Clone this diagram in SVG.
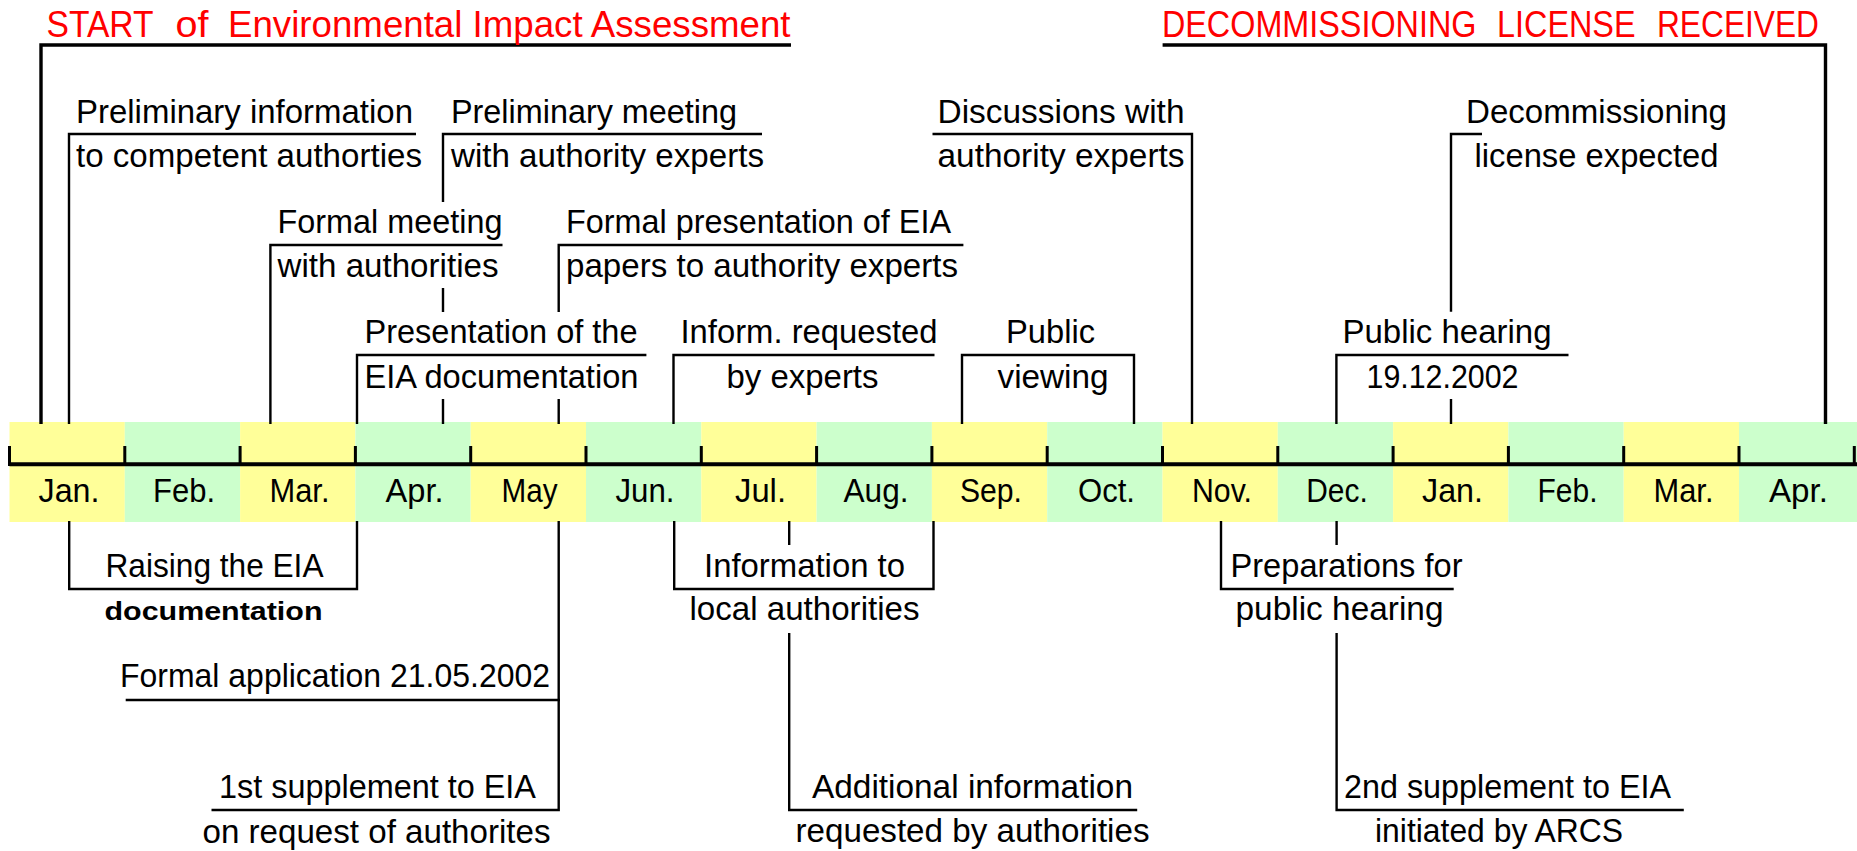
<svg xmlns="http://www.w3.org/2000/svg" width="1857" height="851" viewBox="0 0 1857 851">
  <style>
    text { font-family: "Liberation Sans Narrow", "Arial Narrow", "Liberation Sans", Arial, sans-serif; fill: #000; }
    .lbl { font-size: 32.5px; }
    .title { font-size: 37px; fill: #ff0000; }
    .month { font-size: 33px; text-anchor: middle; }
    .bold { font-size: 26px; font-weight: bold; }
    .yel { fill: #ffff99; }
    .grn { fill: #ccffcc; }
    .conn { fill: none; stroke: #000; stroke-width: 2.4; stroke-linecap: butt; }
    .edge { fill: none; stroke: #000; stroke-width: 3.4; }
    .axis { stroke: #000; stroke-width: 4; }
    .tick { stroke: #000; stroke-width: 3; }
  </style>

  <!-- month band -->
  <g id="timeline">
    <rect class="yel" x="9.5" y="422" width="115.3" height="100"/>
    <rect class="grn" x="124.8" y="422" width="115.3" height="100"/>
    <rect class="yel" x="240.1" y="422" width="115.3" height="100"/>
    <rect class="grn" x="355.4" y="422" width="115.3" height="100"/>
    <rect class="yel" x="470.7" y="422" width="115.3" height="100"/>
    <rect class="grn" x="586" y="422" width="115.3" height="100"/>
    <rect class="yel" x="701.3" y="422" width="115.3" height="100"/>
    <rect class="grn" x="816.6" y="422" width="115.3" height="100"/>
    <rect class="yel" x="931.9" y="422" width="115.3" height="100"/>
    <rect class="grn" x="1047.2" y="422" width="115.3" height="100"/>
    <rect class="yel" x="1162.5" y="422" width="115.3" height="100"/>
    <rect class="grn" x="1277.8" y="422" width="115.3" height="100"/>
    <rect class="yel" x="1393.1" y="422" width="115.3" height="100"/>
    <rect class="grn" x="1508.4" y="422" width="115.3" height="100"/>
    <rect class="yel" x="1623.7" y="422" width="115.3" height="100"/>
    <rect class="grn" x="1739" y="422" width="118" height="100"/>

    <line class="axis" x1="9.5" y1="464.3" x2="1857" y2="464.3"/>
    <path class="tick" d="M9.5,446V466 M124.8,446V466 M240.1,446V466 M355.4,446V466 M470.7,446V466 M586,446V466 M701.3,446V466 M816.6,446V466 M931.9,446V466 M1047.2,446V466 M1162.5,446V466 M1277.8,446V466 M1393.1,446V466 M1508.4,446V466 M1623.7,446V466 M1739,446V466 M1854.3,446V466"/>

    <text class="month" x="69" y="502" textLength="61" lengthAdjust="spacingAndGlyphs">Jan.</text>
    <text class="month" x="184" y="502" textLength="62" lengthAdjust="spacingAndGlyphs">Feb.</text>
    <text class="month" x="299.5" y="502" textLength="60" lengthAdjust="spacingAndGlyphs">Mar.</text>
    <text class="month" x="414.5" y="502" textLength="58" lengthAdjust="spacingAndGlyphs">Apr.</text>
    <text class="month" x="529.5" y="502" textLength="56" lengthAdjust="spacingAndGlyphs">May</text>
    <text class="month" x="645" y="502" textLength="59" lengthAdjust="spacingAndGlyphs">Jun.</text>
    <text class="month" x="760.5" y="502" textLength="51" lengthAdjust="spacingAndGlyphs">Jul.</text>
    <text class="month" x="876" y="502" textLength="65" lengthAdjust="spacingAndGlyphs">Aug.</text>
    <text class="month" x="991" y="502" textLength="62" lengthAdjust="spacingAndGlyphs">Sep.</text>
    <text class="month" x="1106.5" y="502" textLength="57" lengthAdjust="spacingAndGlyphs">Oct.</text>
    <text class="month" x="1222" y="502" textLength="60" lengthAdjust="spacingAndGlyphs">Nov.</text>
    <text class="month" x="1337" y="502" textLength="61.5" lengthAdjust="spacingAndGlyphs">Dec.</text>
    <text class="month" x="1452.5" y="502" textLength="61" lengthAdjust="spacingAndGlyphs">Jan.</text>
    <text class="month" x="1567.5" y="502" textLength="60" lengthAdjust="spacingAndGlyphs">Feb.</text>
    <text class="month" x="1683.5" y="502" textLength="60" lengthAdjust="spacingAndGlyphs">Mar.</text>
    <text class="month" x="1798.5" y="502" textLength="59" lengthAdjust="spacingAndGlyphs">Apr.</text>
  </g>

  <!-- bracket lines linking each event to the band -->
  <g id="connectors">
    <path class="edge" d="M41,424V45H791"/>
    <path class="edge" d="M1162.6,45H1825.5V424"/>

    <path class="conn" d="M69,424V134H416"/>
    <path class="conn" d="M443,202V134H762 M443,288V312 M443,399V424"/>
    <path class="conn" d="M932.5,134H1192V424"/>
    <path class="conn" d="M1482,134H1451V311.7 M1451,399V424"/>
    <path class="conn" d="M270.4,424V245H502.5"/>
    <path class="conn" d="M558.7,312V245H963.4 M558.7,399V424"/>
    <path class="conn" d="M357,424V355H646.4"/>
    <path class="conn" d="M673.5,424V355H934.5"/>
    <path class="conn" d="M962,424V355H1134V424"/>
    <path class="conn" d="M1336.4,424V355H1568.5"/>

    <path class="conn" d="M69.2,521V589H357V521"/>
    <path class="conn" d="M558.7,521V810H211.5 M125.7,700H560"/>
    <path class="conn" d="M674.2,521V589H933.5V521 M789.2,521V545 M789.2,633V810H1137.2"/>
    <path class="conn" d="M1221,521V589H1453.7 M1336.6,521V545 M1336.6,633V810H1683.8"/>
  </g>

  <g id="start-eia">
    <text class="title" x="46.5" y="36.7" textLength="107" lengthAdjust="spacingAndGlyphs">START</text>
    <text class="title" x="175.5" y="36.7" textLength="33" lengthAdjust="spacingAndGlyphs">of</text>
    <text class="title" x="228" y="36.7" textLength="562.5" lengthAdjust="spacingAndGlyphs">Environmental Impact Assessment</text>
  </g>
  <!-- condensed capitals: x positions are in the group's squeezed units -->
  <g id="license-received" transform="scale(0.85,1)">
    <text class="title" x="1367" y="36.7" textLength="370" lengthAdjust="spacingAndGlyphs">DECOMMISSIONING</text>
    <text class="title" x="1761.2" y="36.7" textLength="163" lengthAdjust="spacingAndGlyphs">LICENSE</text>
    <text class="title" x="1949.4" y="36.7" textLength="190.6" lengthAdjust="spacingAndGlyphs">RECEIVED</text>
  </g>

  <g id="prelim-info">
    <text class="lbl" x="76" y="123.3" textLength="337" lengthAdjust="spacingAndGlyphs">Preliminary information</text>
    <text class="lbl" x="76" y="166.7" textLength="346" lengthAdjust="spacingAndGlyphs">to competent authorties</text>
  </g>
  <g id="prelim-meeting">
    <text class="lbl" x="451" y="123.3" textLength="286" lengthAdjust="spacingAndGlyphs">Preliminary meeting</text>
    <text class="lbl" x="451" y="166.7" textLength="313" lengthAdjust="spacingAndGlyphs">with authority experts</text>
  </g>
  <g id="discussions">
    <text class="lbl" x="937.5" y="123.3" textLength="247" lengthAdjust="spacingAndGlyphs">Discussions with</text>
    <text class="lbl" x="937.5" y="166.7" textLength="247" lengthAdjust="spacingAndGlyphs">authority experts</text>
  </g>
  <g id="license-expected">
    <text class="lbl" x="1466" y="123.3" textLength="261" lengthAdjust="spacingAndGlyphs">Decommissioning</text>
    <text class="lbl" x="1474.5" y="166.7" textLength="244" lengthAdjust="spacingAndGlyphs">license expected</text>
  </g>
  <g id="formal-meeting">
    <text class="lbl" x="277.5" y="233.3" textLength="225" lengthAdjust="spacingAndGlyphs">Formal meeting</text>
    <text class="lbl" x="277.5" y="276.7" textLength="221" lengthAdjust="spacingAndGlyphs">with authorities</text>
  </g>
  <g id="formal-presentation">
    <text class="lbl" x="566" y="233.3" textLength="385" lengthAdjust="spacingAndGlyphs">Formal presentation of EIA</text>
    <text class="lbl" x="566" y="276.7" textLength="392" lengthAdjust="spacingAndGlyphs">papers to authority experts</text>
  </g>
  <g id="presentation">
    <text class="lbl" x="364.5" y="343.3" textLength="273" lengthAdjust="spacingAndGlyphs">Presentation of the</text>
    <text class="lbl" x="364.5" y="388.3" textLength="274" lengthAdjust="spacingAndGlyphs">EIA documentation</text>
  </g>
  <g id="inform-requested">
    <text class="lbl" x="680.5" y="343.3" textLength="257" lengthAdjust="spacingAndGlyphs">Inform. requested</text>
    <text class="lbl" x="726.5" y="388.3" textLength="152" lengthAdjust="spacingAndGlyphs">by experts</text>
  </g>
  <g id="public-viewing">
    <text class="lbl" x="1006" y="343.3" textLength="89" lengthAdjust="spacingAndGlyphs">Public</text>
    <text class="lbl" x="997.5" y="388.3" textLength="111" lengthAdjust="spacingAndGlyphs">viewing</text>
  </g>
  <g id="public-hearing">
    <text class="lbl" x="1342.5" y="343.3" textLength="209" lengthAdjust="spacingAndGlyphs">Public hearing</text>
    <text class="lbl" x="1366.5" y="388.3" textLength="152" lengthAdjust="spacingAndGlyphs">19.12.2002</text>
  </g>

  <g id="raising-eia">
    <text class="lbl" x="105.5" y="577.3" textLength="218" lengthAdjust="spacingAndGlyphs">Raising the EIA</text>
    <text class="bold" x="104.5" y="620" textLength="218" lengthAdjust="spacingAndGlyphs">documentation</text>
  </g>
  <g id="formal-application">
    <text class="lbl" x="120" y="686.7" textLength="430" lengthAdjust="spacingAndGlyphs">Formal application 21.05.2002</text>
  </g>
  <g id="supplement-1">
    <text class="lbl" x="219" y="798.3" textLength="317" lengthAdjust="spacingAndGlyphs">1st supplement to EIA</text>
    <text class="lbl" x="202.5" y="842.7" textLength="348" lengthAdjust="spacingAndGlyphs">on request of authorites</text>
  </g>
  <g id="info-local">
    <text class="lbl" x="704" y="577.3" textLength="201" lengthAdjust="spacingAndGlyphs">Information to</text>
    <text class="lbl" x="689.5" y="620" textLength="230" lengthAdjust="spacingAndGlyphs">local authorities</text>
  </g>
  <g id="additional-info">
    <text class="lbl" x="812" y="798.3" textLength="321" lengthAdjust="spacingAndGlyphs">Additional information</text>
    <text class="lbl" x="795.5" y="841.7" textLength="354" lengthAdjust="spacingAndGlyphs">requested by authorities</text>
  </g>
  <g id="hearing-prep">
    <text class="lbl" x="1230.5" y="577.3" textLength="232" lengthAdjust="spacingAndGlyphs">Preparations for</text>
    <text class="lbl" x="1235.5" y="620" textLength="208" lengthAdjust="spacingAndGlyphs">public hearing</text>
  </g>
  <g id="supplement-2">
    <text class="lbl" x="1344" y="798.3" textLength="327" lengthAdjust="spacingAndGlyphs">2nd supplement to EIA</text>
    <text class="lbl" x="1375" y="842" textLength="248" lengthAdjust="spacingAndGlyphs">initiated by ARCS</text>
  </g>
</svg>
